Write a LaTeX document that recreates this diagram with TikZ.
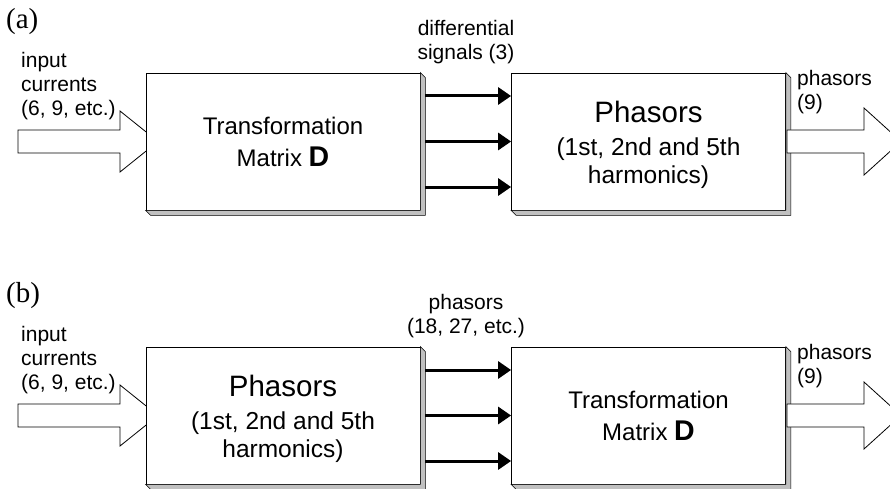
\documentclass[tikz,border=0pt]{standalone}
\usepackage{fontspec}
\setmainfont{Liberation Sans}
\newfontfamily\seriffam{Liberation Serif}
\usetikzlibrary{arrows.meta}
\definecolor{shadowgray}{HTML}{C0C0C0}
\begin{document}
\begin{tikzpicture}[x=1pt,y=-1pt,
  box/.style={draw=black, line width=0.8pt, fill=white, minimum width=274pt, minimum height=137pt, inner sep=0pt, align=center},
  matbox/.style={box, font=\fontsize{24}{32}\selectfont},
  phbox/.style={box, font=\fontsize{24.5}{28}\selectfont},
  shadowc/.style={draw=black, line width=0.6pt, fill=shadowgray, line join=miter},
  lbl/.style={inner sep=0pt, align=left, font=\fontsize{21}{24}\selectfont},
  clbl/.style={inner sep=0pt, align=center, font=\fontsize{21}{24}\selectfont},
  sig/.style={line width=3pt, -{Triangle[length=13pt,width=17pt]}},
  fat/.style={draw=black, line width=0.8pt, fill=white, line join=miter},
  panel/.style={inner sep=0pt, font=\seriffam\fontsize{29}{32}\selectfont}
]
\useasboundingbox (0,0) rectangle (890,489);
\clip (0,0) rectangle (890,489);

% ---------- (a) ----------
\draw[fat] (18,130) -- (120,130) -- (120,111) -- (158,141.5) -- (120,172) -- (120,153) -- (18,153) -- cycle;

\node[matbox] (a1) at (283,141.5) {Transformation\\Matrix {\fontsize{28.5}{32}\selectfont\bfseries D}};
\node[phbox] (a2) at (648.5,141.5) {{\fontsize{29.5}{35}\selectfont\rule{0pt}{29pt}Phasors}\\[5pt](1st, 2nd and 5th\\harmonics)};

% ---------- (b) ----------
\draw[fat] (18,404) -- (120,404) -- (120,385) -- (158,415.5) -- (120,446) -- (120,427) -- (18,427) -- cycle;

\node[phbox] (b1) at (283,415.5) {{\fontsize{29.5}{35}\selectfont\rule{0pt}{29pt}Phasors}\\[5pt](1st, 2nd and 5th\\harmonics)};
\node[matbox] (b2) at (648.5,415.5) {Transformation\\Matrix {\fontsize{28.5}{32}\selectfont\bfseries D}};

% shadows
\foreach \n in {a1,a2,b1,b2}
  \draw[shadowc] (\n.north east) -- ([shift={(5,5)}]\n.north east) -- ([shift={(5,5)}]\n.south east) -- ([shift={(5,5)}]\n.south west) -- (\n.south west) -- (\n.south east) -- cycle;

% signal arrows
\foreach \d in {-45.5,0,45.5} {
  \draw[sig] ([shift={(5,\d)}]a1.east) -- ([shift={(0,\d)}]a2.west);
  \draw[sig] ([shift={(5,\d)}]b1.east) -- ([shift={(0,\d)}]b2.west);
}

% output arrows
\coordinate (outa0) at (901,141.5);
\draw[fat] (787,130) -- (864,130) -- (864,108) -- (outa0) -- (864,175) -- (864,153) -- (787,153) -- cycle;
\coordinate (outb0) at (901,415.5);
\draw[fat] (787,404) -- (864,404) -- (864,382) -- (outb0) -- (864,449) -- (864,427) -- (787,427) -- cycle;

% labels
\node[panel, anchor=west] (pa) at (6,22) {(a)};
\node[lbl, anchor=west] (ina) at (21,86) {input\\currents\\(6, 9, etc.)};
\node[clbl] (diffa) at (466,42) {differential\\signals (3)};
\node[lbl, anchor=west] (outa) at (797,92) {phasors\\(9)};

\node[panel, anchor=west] (pb) at (6,296) {(b)};
\node[lbl, anchor=west] (inb) at (21,360) {input\\currents\\(6, 9, etc.)};
\node[clbl] (diffb) at (466,316) {phasors\\(18, 27, etc.)};
\node[lbl, anchor=west] (outb) at (797,366) {phasors\\(9)};
\end{tikzpicture}
\end{document}
